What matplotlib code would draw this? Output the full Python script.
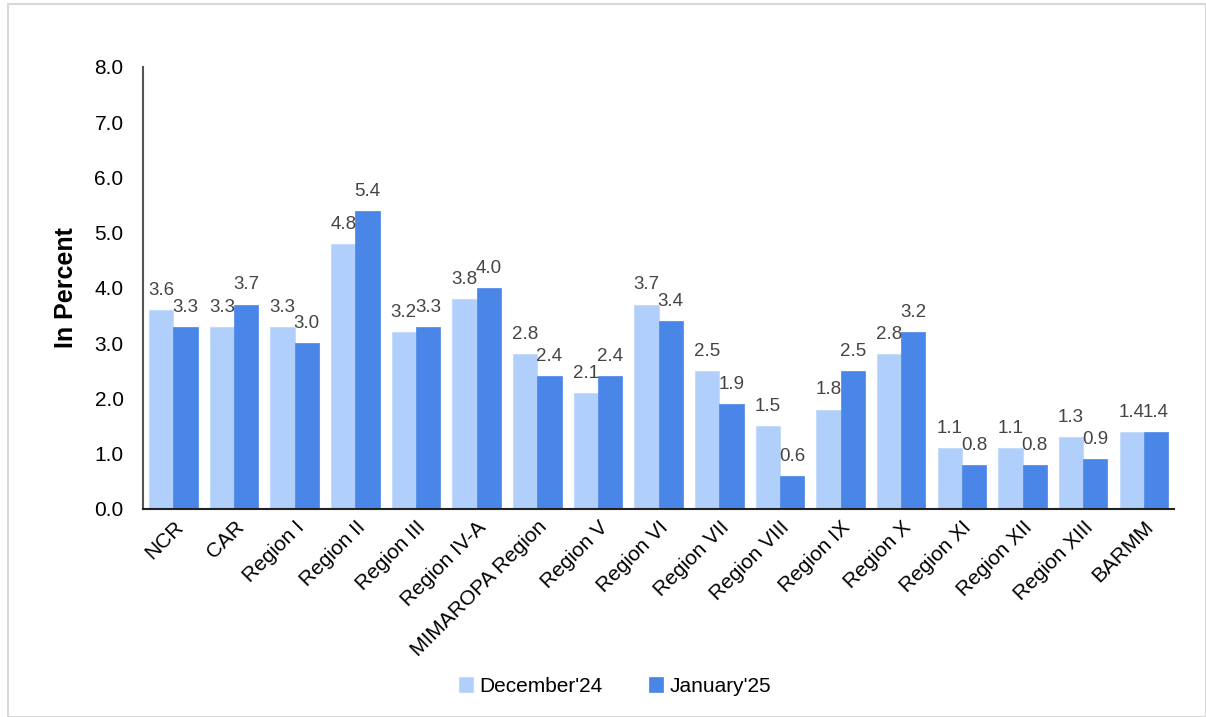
import numpy as np
import matplotlib.pyplot as plt
from matplotlib.patches import Rectangle

plt.rcParams['font.family'] = ['Liberation Sans', 'DejaVu Sans']

regions = ['NCR', 'CAR', 'Region I', 'Region II', 'Region III', 'Region IV-A',
           'MIMAROPA Region', 'Region V', 'Region VI', 'Region VII', 'Region VIII',
           'Region IX', 'Region X', 'Region XI', 'Region XII', 'Region XIII', 'BARMM']
dec24 = [3.6, 3.3, 3.3, 4.8, 3.2, 3.8, 2.8, 2.1, 3.7, 2.5, 1.5, 1.8, 2.8, 1.1, 1.1, 1.3, 1.4]
jan25 = [3.3, 3.7, 3.0, 5.4, 3.3, 4.0, 2.4, 2.4, 3.4, 1.9, 0.6, 2.5, 3.2, 0.8, 0.8, 0.9, 1.4]
yticks = np.arange(0, 8.1, 1.0)

fig = plt.figure(figsize=(12.06, 7.17), dpi=100)
ax = fig.add_axes([0.1186, 0.2901, 0.855, 0.6165])

# rahmen um die grafik
fig.patches.append(Rectangle((0.007, 0.0), 0.993, 0.994, transform=fig.transFigure,
                             fill=False, edgecolor='#d9d9d9', linewidth=1.5))

x = np.arange(len(regions))
w = 0.4
b1 = ax.bar(x - w/2, dec24, w, color='#b0cffa', edgecolor='#c4dbfb', linewidth=0.8,
            label="December'24")
b2 = ax.bar(x + w/2, jan25, w, color='#4a86e8', edgecolor='#4a86e8', linewidth=0.5,
            label="January'25")

for bars in (b1, b2):
    for r in bars:
        ax.annotate(f'{r.get_height():.1f}', (r.get_x() + r.get_width()/2, r.get_height()),
                    xytext=(0, 8), textcoords='offset points', ha='center', va='bottom',
                    fontsize=13.5, color='#444444')

ax.set_xlim(-0.5, len(regions) - 0.5)
ax.set_ylim(0, 8)
ax.set_yticks(yticks)
ax.set_yticklabels([f'{v:.1f}' for v in yticks])
ax.set_xticks(x)
ax.set_xticklabels(regions, rotation=45, ha='right', rotation_mode='anchor')
ax.tick_params(axis='both', length=0, labelsize=15)
ax.tick_params(axis='y', pad=14)
ax.tick_params(axis='x', pad=6)
ax.set_ylabel('In Percent', fontsize=18, fontweight='bold', labelpad=12)

for s in ['top', 'right']:
    ax.spines[s].set_visible(False)
ax.spines['left'].set_color('#555555')
ax.spines['left'].set_linewidth(1.5)
ax.spines['bottom'].set_color('#222222')
ax.spines['bottom'].set_linewidth(1.5)

fig.legend(handles=[b1, b2], loc='center', bbox_to_anchor=(0.51, 0.043), ncol=2,
           frameon=False, fontsize=15, handlelength=0.7, handleheight=0.7,
           handletextpad=0.3, columnspacing=2.2)

fig.savefig('out.png', dpi=100)
